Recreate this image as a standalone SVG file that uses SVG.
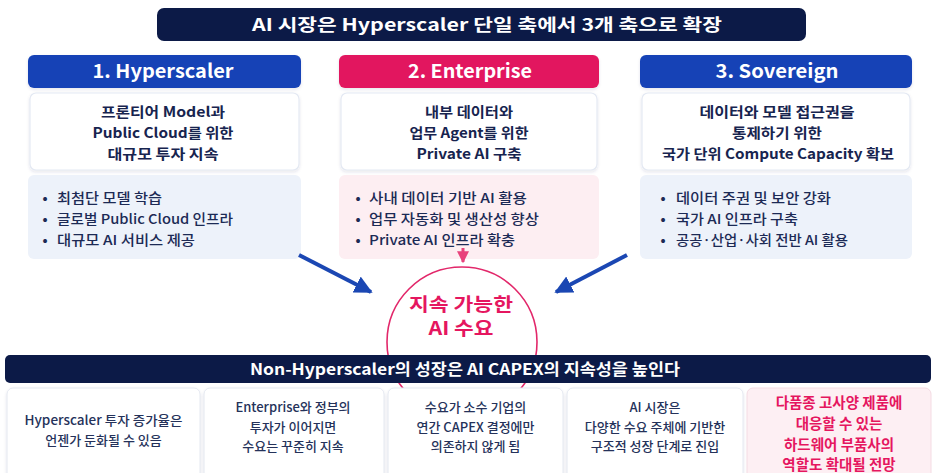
<svg xmlns="http://www.w3.org/2000/svg" width="936" height="473" viewBox="0 0 936 473">
<defs>
<style>
text{font-family:"Noto Sans CJK KR","Noto Sans",sans-serif;text-anchor:middle}
.navy{fill:#0c1a47}
.hb{fill:#1543b6}
.hp{fill:#e2175f}
.tt{fill:#fff;font-size:17px;font-weight:700}
.ht{fill:#fff;font-size:19px;font-weight:700}
.desc{fill:#fff;stroke:#e4e9f3;stroke-width:1.2}
.dt{fill:#17244f;font-size:14px;font-weight:700}
.bb{fill:#edf2fa}
.bp{fill:#fdeef2}
.bt{fill:#1c2a55;font-size:13.5px;font-weight:500;text-anchor:start}
.dot{fill:#1c2a55;font-size:13.5px;font-weight:700}
.card{fill:#fff;stroke:#e4e8f0;stroke-width:1}
.cardp{fill:#fdeff3;stroke:#f4dbe3;stroke-width:1}
.ct{fill:#25325a;font-size:13px;font-weight:500}
.cpt{fill:#e5165f;font-size:14.5px;font-weight:700}
.ci{fill:#e5165f;font-size:18.5px;font-weight:700}
</style>
<filter id="sh" x="-5%" y="-10%" width="110%" height="130%"><feDropShadow dx="0" dy="1.5" stdDeviation="1.5" flood-color="#2a3a6a" flood-opacity="0.12"/></filter>
<marker id="ab" viewBox="0 0 10 10" refX="9" refY="5" markerWidth="4.5" markerHeight="4.5" markerUnits="strokeWidth" orient="auto"><path d="M0,0 L10,5 L0,10 z" fill="#1b47b3"/></marker>
<marker id="ap" viewBox="0 0 10 10" refX="9" refY="5" markerWidth="4" markerHeight="4" markerUnits="strokeWidth" orient="auto"><path d="M0,0 L10,5 L0,10 z" fill="#e8437c"/></marker>
</defs>
<rect width="936" height="473" fill="#fff"/>

<g id="title">
<rect x="157" y="8" width="649" height="33" rx="7" class="navy"/>
<text x="487" y="31" class="tt" textLength="470" lengthAdjust="spacingAndGlyphs">AI 시장은 Hyperscaler 단일 축에서 3개 축으로 확장</text>
</g>

<g id="hyperscaler">
<rect x="28" y="55" width="273" height="33" rx="6" class="hb" filter="url(#sh)"/>
<text x="163" y="78" class="ht" textLength="141" lengthAdjust="spacingAndGlyphs">1. Hyperscaler</text>
<rect x="30" y="93" width="269" height="77" rx="6" class="desc" filter="url(#sh)"/>
<text x="163" y="117" class="dt" textLength="124" lengthAdjust="spacingAndGlyphs">프론티어 Model과</text>
<text x="163" y="138" class="dt" textLength="141" lengthAdjust="spacingAndGlyphs">Public Cloud를 위한</text>
<text x="163" y="159" class="dt" textLength="111" lengthAdjust="spacingAndGlyphs">대규모 투자 지속</text>
<rect x="28" y="175" width="273" height="84" rx="6" class="bb"/>
<text x="45" y="203" class="dot">•</text>
<text x="45" y="224" class="dot">•</text>
<text x="45" y="245" class="dot">•</text>
<text x="57" y="203" class="bt" textLength="105" lengthAdjust="spacingAndGlyphs">최첨단 모델 학습</text>
<text x="57" y="224" class="bt" textLength="176" lengthAdjust="spacingAndGlyphs">글로벌 Public Cloud 인프라</text>
<text x="57" y="245" class="bt" textLength="138" lengthAdjust="spacingAndGlyphs">대규모 AI 서비스 제공</text>
</g>

<g id="enterprise">
<rect x="339" y="55" width="260" height="33" rx="6" class="hp" filter="url(#sh)"/>
<text x="470" y="78" class="ht" textLength="124" lengthAdjust="spacingAndGlyphs">2. Enterprise</text>
<rect x="341" y="93" width="256" height="77" rx="6" class="desc" filter="url(#sh)"/>
<text x="469" y="117" class="dt" textLength="88" lengthAdjust="spacingAndGlyphs">내부 데이터와</text>
<text x="469" y="138" class="dt" textLength="119" lengthAdjust="spacingAndGlyphs">업무 Agent를 위한</text>
<text x="469" y="159" class="dt" textLength="105" lengthAdjust="spacingAndGlyphs">Private AI 구축</text>
<rect x="339" y="175" width="260" height="84" rx="6" class="bp"/>
<text x="358" y="203" class="dot">•</text>
<text x="358" y="224" class="dot">•</text>
<text x="358" y="245" class="dot">•</text>
<text x="369" y="203" class="bt" textLength="158" lengthAdjust="spacingAndGlyphs">사내 데이터 기반 AI 활용</text>
<text x="369" y="224" class="bt" textLength="170" lengthAdjust="spacingAndGlyphs">업무 자동화 및 생산성 향상</text>
<text x="369" y="245" class="bt" textLength="146" lengthAdjust="spacingAndGlyphs">Private AI 인프라 확충</text>
</g>

<g id="sovereign">
<rect x="640" y="55" width="272" height="33" rx="6" class="hb" filter="url(#sh)"/>
<text x="777" y="78" class="ht" textLength="123" lengthAdjust="spacingAndGlyphs">3. Sovereign</text>
<rect x="642" y="93" width="268" height="77" rx="6" class="desc" filter="url(#sh)"/>
<text x="777" y="117" class="dt" textLength="155" lengthAdjust="spacingAndGlyphs">데이터와 모델 접근권을</text>
<text x="777" y="138" class="dt" textLength="90" lengthAdjust="spacingAndGlyphs">통제하기 위한</text>
<text x="778" y="159" class="dt" textLength="232" lengthAdjust="spacingAndGlyphs">국가 단위 Compute Capacity 확보</text>
<rect x="640" y="175" width="272" height="84" rx="6" class="bb"/>
<text x="663" y="203" class="dot">•</text>
<text x="663" y="224" class="dot">•</text>
<text x="663" y="245" class="dot">•</text>
<text x="676" y="203" class="bt" textLength="155" lengthAdjust="spacingAndGlyphs">데이터 주권 및 보안 강화</text>
<text x="676" y="224" class="bt" textLength="122" lengthAdjust="spacingAndGlyphs">국가 AI 인프라 구축</text>
<text x="676" y="245" class="bt" textLength="172" lengthAdjust="spacingAndGlyphs">공공·산업·사회 전반 AI 활용</text>
</g>

<g id="demand">
<circle cx="462" cy="342" r="75" fill="#fff" stroke="#e2276a" stroke-width="1.6"/>
<text x="461" y="311" class="ci" textLength="104" lengthAdjust="spacingAndGlyphs">지속 가능한</text>
<text x="461" y="335" class="ci" textLength="65" lengthAdjust="spacingAndGlyphs">AI 수요</text>
</g>

<g id="connectors">
<line x1="299" y1="255" x2="371" y2="292" stroke="#1b47b3" stroke-width="4" marker-end="url(#ab)"/>
<line x1="627" y1="255" x2="556" y2="292" stroke="#1b47b3" stroke-width="4" marker-end="url(#ab)"/>
<line x1="463" y1="248" x2="463" y2="262" stroke="#e8437c" stroke-width="3" marker-end="url(#ap)"/>
</g>

<g id="conclusion">
<rect x="5" y="355" width="926" height="28" rx="5" class="navy"/>
<text x="465" y="375" fill="#fff" font-size="15.5" font-weight="700" textLength="430" lengthAdjust="spacingAndGlyphs">Non-Hyperscaler의 성장은 AI CAPEX의 지속성을 높인다</text>
</g>

<g id="card1">
<rect x="7" y="388" width="193" height="95" rx="6" class="card" filter="url(#sh)"/>
<text x="103.5" y="425" class="ct" textLength="158" lengthAdjust="spacingAndGlyphs">Hyperscaler 투자 증가율은</text>
<text x="103.5" y="445" class="ct">언젠가 둔화될 수 있음</text>
</g>
<g id="card2">
<rect x="204" y="388" width="180" height="95" rx="6" class="card" filter="url(#sh)"/>
<text x="293" y="412" class="ct">Enterprise와 정부의</text>
<text x="293" y="431.5" class="ct">투자가 이어지면</text>
<text x="293" y="451" class="ct">수요는 꾸준히 지속</text>
</g>
<g id="card3">
<rect x="388" y="388" width="175" height="95" rx="6" class="card" filter="url(#sh)"/>
<text x="475.5" y="412" class="ct">수요가 소수 기업의</text>
<text x="475.5" y="431.5" class="ct">연간 CAPEX 결정에만</text>
<text x="475.5" y="451" class="ct">의존하지 않게 됨</text>
</g>
<g id="card4">
<rect x="567" y="388" width="176" height="95" rx="6" class="card" filter="url(#sh)"/>
<text x="655" y="412" class="ct">AI 시장은</text>
<text x="655" y="431.5" class="ct">다양한 수요 주체에 기반한</text>
<text x="655" y="451" class="ct">구조적 성장 단계로 진입</text>
</g>
<g id="card5">
<rect x="747" y="388" width="184" height="95" rx="6" class="cardp"/>
<text x="839" y="408" class="cpt">다품종 고사양 제품에</text>
<text x="839" y="429" class="cpt">대응할 수 있는</text>
<text x="839" y="450" class="cpt">하드웨어 부품사의</text>
<text x="839" y="470" class="cpt">역할도 확대될 전망</text>
</g>
</svg>
